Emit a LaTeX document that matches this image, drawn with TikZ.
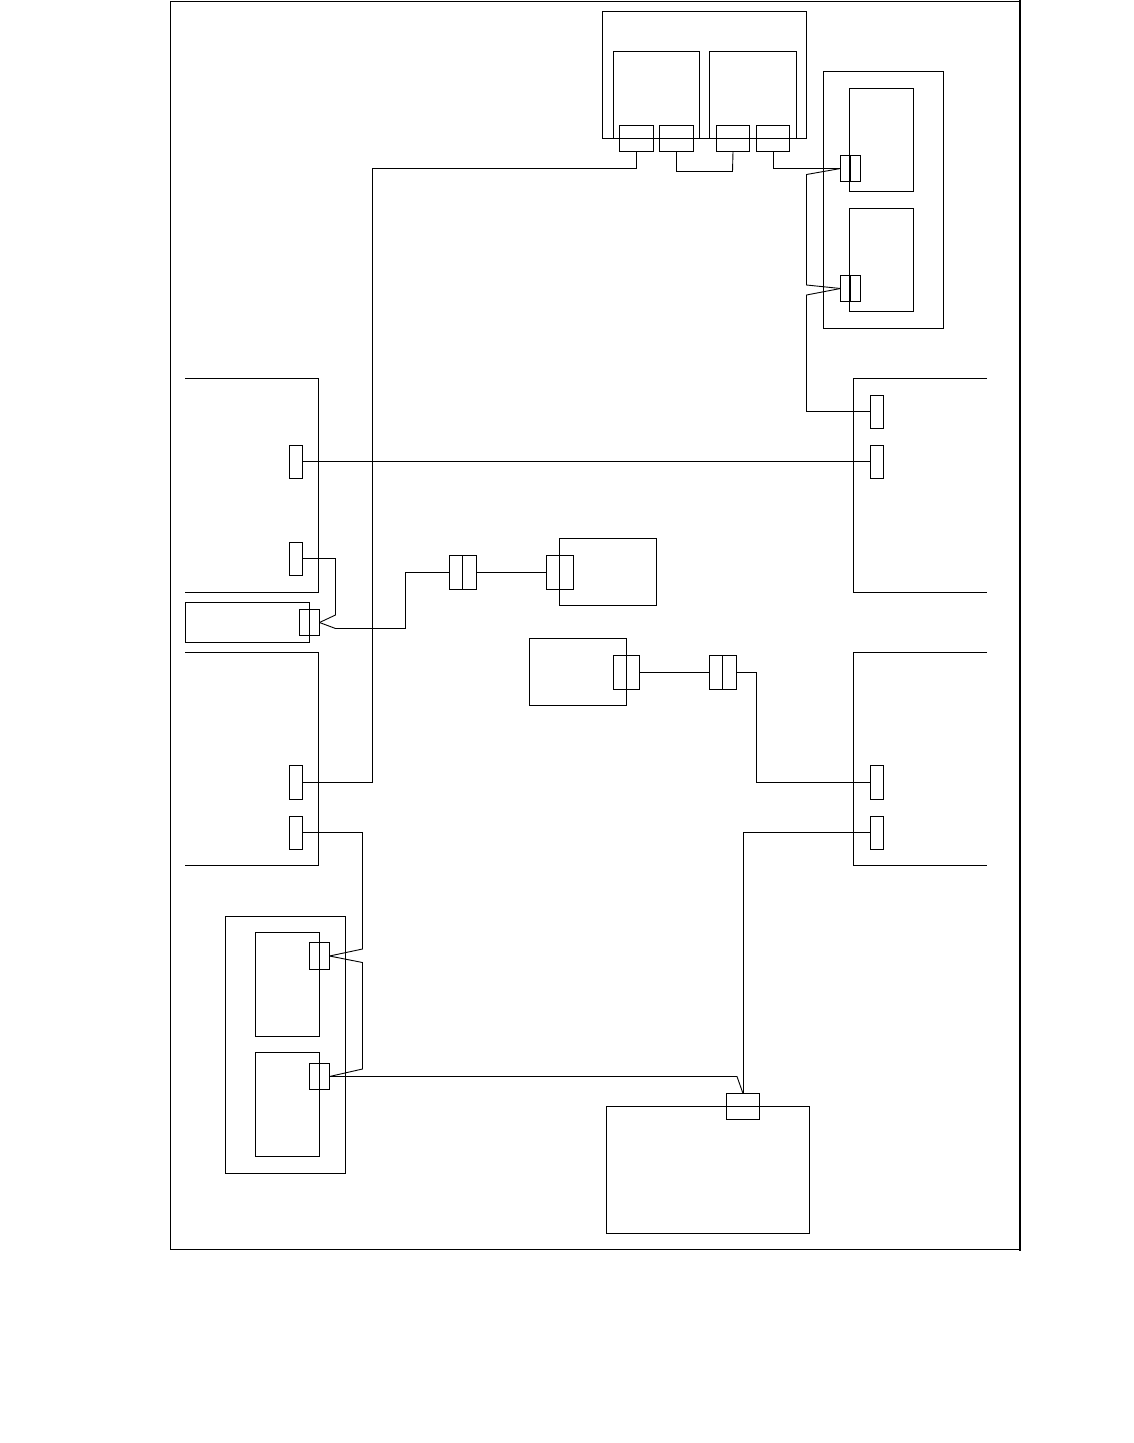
\documentclass[tikz,border=0pt]{standalone}
\tikzset{
  unit/.style={rectangle,draw=black,line width=0.9pt,inner sep=0pt,outer sep=0pt,anchor=north west},
  panel/.style={rectangle,draw=none,inner sep=0pt,outer sep=0pt,anchor=north west},
  edge/.style={draw=black,line width=0.9pt,line join=miter},
  wire/.style={draw=black,line width=0.9pt,line join=miter}
}
\newcommand{\bx}[6][unit]{%
  \pgfmathsetmacro{\bxw}{#5-#3}%
  \pgfmathsetmacro{\bxh}{#6-#4}%
  \node[#1,minimum width=\bxw pt,minimum height=\bxh pt] (#2) at (#3,#4) {};%
}
\begin{document}
\begin{tikzpicture}[x=1pt,y=-1pt]
\fill[white] (0,0) rectangle (1134,1443);
\useasboundingbox (0,0) rectangle (1134,1443);
% outer frame
\bx{frame}{170.5}{1}{1019.5}{1249.5}
\coordinate (frameTop) at (1020,0);
\coordinate (frameEnd) at (1020,1251);
\draw[line width=2pt] (frameTop) -- (frameEnd);
% top unit
\bx{top}{602.5}{11.5}{806.5}{138.5}
\bx{topA}{613.5}{51.5}{699.5}{138.5}
\bx{topB}{709.5}{51.5}{796.5}{138.5}
\bx{pa}{619.5}{125.5}{653.5}{151.5}
\bx{pb}{659.5}{125.5}{693.5}{151.5}
\bx{pc}{716.5}{125.5}{749.5}{151.5}
\bx{pd}{756.5}{125.5}{789.5}{151.5}
% upper right unit
\bx{ur}{823.5}{71.5}{943.5}{328.5}
\bx{urA}{849.5}{88.5}{913.5}{191.5}
\bx{urB}{849.5}{208.5}{913.5}{311.5}
\bx{urpa}{840.5}{155.5}{860.5}{181.5}
\bx{urpb}{840.5}{275.5}{860.5}{301.5}
\draw[edge] (urpa.north) -- (urpa.south);
\draw[edge] (urpb.north) -- (urpb.south);
% open panels
\bx[panel]{lu}{185}{378.5}{318.5}{592.5}
\draw[edge] (lu.north west) -- (lu.north east) -- (lu.south east) -- (lu.south west);
\bx[panel]{ll}{185}{652.5}{318.5}{865.5}
\draw[edge] (ll.north west) -- (ll.north east) -- (ll.south east) -- (ll.south west);
\bx[panel]{ru}{853.5}{378.5}{987}{592.5}
\draw[edge] (ru.north east) -- (ru.north west) -- (ru.south west) -- (ru.south east);
\bx[panel]{rl}{853.5}{652.5}{987}{865.5}
\draw[edge] (rl.north east) -- (rl.north west) -- (rl.south west) -- (rl.south east);
% panel ports
\bx{lua}{289.5}{445.5}{302.5}{478.5}
\bx{lub}{289.5}{542.5}{302.5}{575.5}
\bx{lla}{289.5}{765.5}{302.5}{799.5}
\bx{llb}{289.5}{816.5}{302.5}{849.5}
\bx{rua}{870.5}{395.5}{883.5}{428.5}
\bx{rub}{870.5}{445.5}{883.5}{478.5}
\bx{rla}{870.5}{765.5}{883.5}{799.5}
\bx{rlb}{870.5}{816.5}{883.5}{849.5}
% small box
\bx{sm}{185.5}{602.5}{309.5}{642.5}
\bx{smp}{299.5}{609.5}{319.5}{635.5}
% upper inline connector and device
\bx{ca}{449.5}{555.5}{462.5}{589.5}
\bx{cb}{462.5}{555.5}{476.5}{589.5}
\bx{da}{559.5}{538.5}{656.5}{605.5}
\bx{dap}{546.5}{555.5}{573.5}{589.5}
% lower inline connector and device
\bx{db}{529.5}{638.5}{626.5}{705.5}
\bx{dbp}{613.5}{655.5}{639.5}{689.5}
\bx{cc}{709.5}{655.5}{722.5}{689.5}
\bx{cd}{722.5}{655.5}{736.5}{689.5}
% lower left unit
\bx{bl}{225.5}{916.5}{345.5}{1173.5}
\bx{blA}{255.5}{932.5}{319.5}{1036.5}
\bx{blB}{255.5}{1052.5}{319.5}{1156.5}
\bx{blpa}{309.5}{942.5}{329.5}{969.5}
\bx{blpb}{309.5}{1063.5}{329.5}{1089.5}
% bottom unit
\bx{bot}{606.5}{1106.5}{809.5}{1233.5}
\bx{botp}{726.5}{1093.5}{759.5}{1119.5}
% bend points
\coordinate (w0) at (372.5,461.5);
\coordinate (w1a) at (636.5,168.5);
\coordinate (w1b) at (372.5,168.5);
\coordinate (w1c) at (372.5,782.5);
\coordinate (w2a) at (676.5,171.5);
\coordinate (w2b) at (732.5,171.5);
\coordinate (w3a) at (773,168.5);
\coordinate (w4a) at (806.5,174.5);
\coordinate (w4b) at (806.5,285);
\coordinate (w5a) at (806.5,295);
\coordinate (w5b) at (806.5,411.5);
\coordinate (w6a) at (335.5,558.5);
\coordinate (w6b) at (335.5,615);
\coordinate (w7a) at (335.5,628.5);
\coordinate (w7b) at (405.5,628.5);
\coordinate (w7c) at (405.5,572.5);
\coordinate (w8a) at (756.5,672.5);
\coordinate (w8b) at (756.5,782.5);
\coordinate (w9a) at (362.5,832.5);
\coordinate (w9b) at (362.5,949);
\coordinate (w10a) at (362.5,962.5);
\coordinate (w10b) at (362.5,1069);
\coordinate (w11a) at (737,1076.5);
\coordinate (w12a) at (743,832.5);
% connectors
\draw[wire] (pa.south) -- (w1a) -- (w1b) -- (w1c) -- (lla.east);
\draw[wire] (pb.south) -- (w2a) -- (w2b) -- (pc.south);
\draw[wire] (pd.south) -- (w3a) -- (urpa.west);
\draw[wire] (urpa.west) -- (w4a) -- (w4b) -- (urpb.west);
\draw[wire] (urpb.west) -- (w5a) -- (w5b) -- (rua.west |- w5b);
\draw[wire] (lua.east |- w0) -- (rub.west |- w0);
\draw[wire] (lub.east |- w6a) -- (w6a) -- (w6b) -- (smp.east);
\draw[wire] (smp.east) -- (w7a) -- (w7b) -- (w7c) -- (ca.west);
\draw[wire] (cb.east) -- (dap.west);
\draw[wire] (dbp.east) -- (cc.west);
\draw[wire] (cd.east) -- (w8a) -- (w8b) -- (rla.west);
\draw[wire] (llb.east |- w9a) -- (w9a) -- (w9b) -- (blpa.east);
\draw[wire] (blpa.east) -- (w10a) -- (w10b) -- (blpb.east |- w11a);
\draw[wire] (blpb.east |- w11a) -- (w11a) -- (botp.north);
\draw[wire] (rlb.west |- w12a) -- (w12a) -- (botp.north);
\end{tikzpicture}
\end{document}
